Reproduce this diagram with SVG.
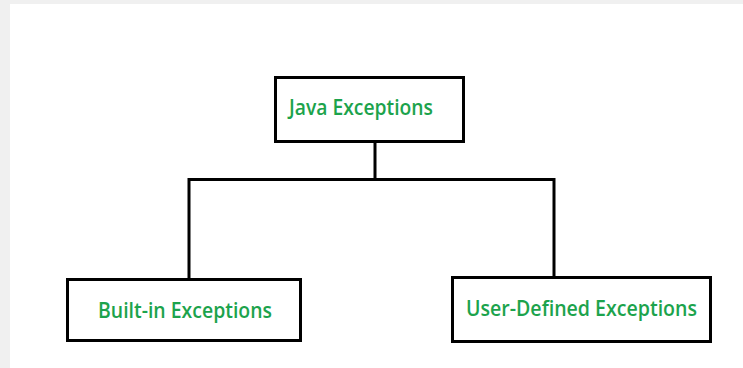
<svg xmlns="http://www.w3.org/2000/svg" width="743" height="368" viewBox="0 0 743 368">
<style>
.box{fill:#fff;stroke:#000;stroke-width:3}
.lbl{font-family:"Open Sans","Liberation Sans",sans-serif;font-size:22px;fill:#1ca34c;font-weight:600}
.con{fill:none;stroke:#000;stroke-width:3}
</style>
<rect x="0" y="0" width="743" height="368" fill="#f0f0f0"/>
<rect x="10" y="4" width="733" height="364" fill="#fff"/>
<g id="connectors">
<path class="con" d="M375 142 V179.5 M188.5 179.5 H554 M189 178 V279 M554 178 V277"/>
</g>
<g id="java">
<rect class="box" x="275.5" y="77.5" width="188" height="64"/>
<text class="lbl" x="289" y="115" textLength="144" lengthAdjust="spacingAndGlyphs">Java Exceptions</text>
</g>
<g id="builtin">
<rect class="box" x="67.5" y="279.5" width="233" height="61"/>
<text class="lbl" x="98" y="318" textLength="174" lengthAdjust="spacingAndGlyphs">Built-in Exceptions</text>
</g>
<g id="userdefined">
<rect class="box" x="452.5" y="277.5" width="258" height="64"/>
<text class="lbl" x="466" y="316" textLength="231" lengthAdjust="spacingAndGlyphs">User-Defined Exceptions</text>
</g>
</svg>
